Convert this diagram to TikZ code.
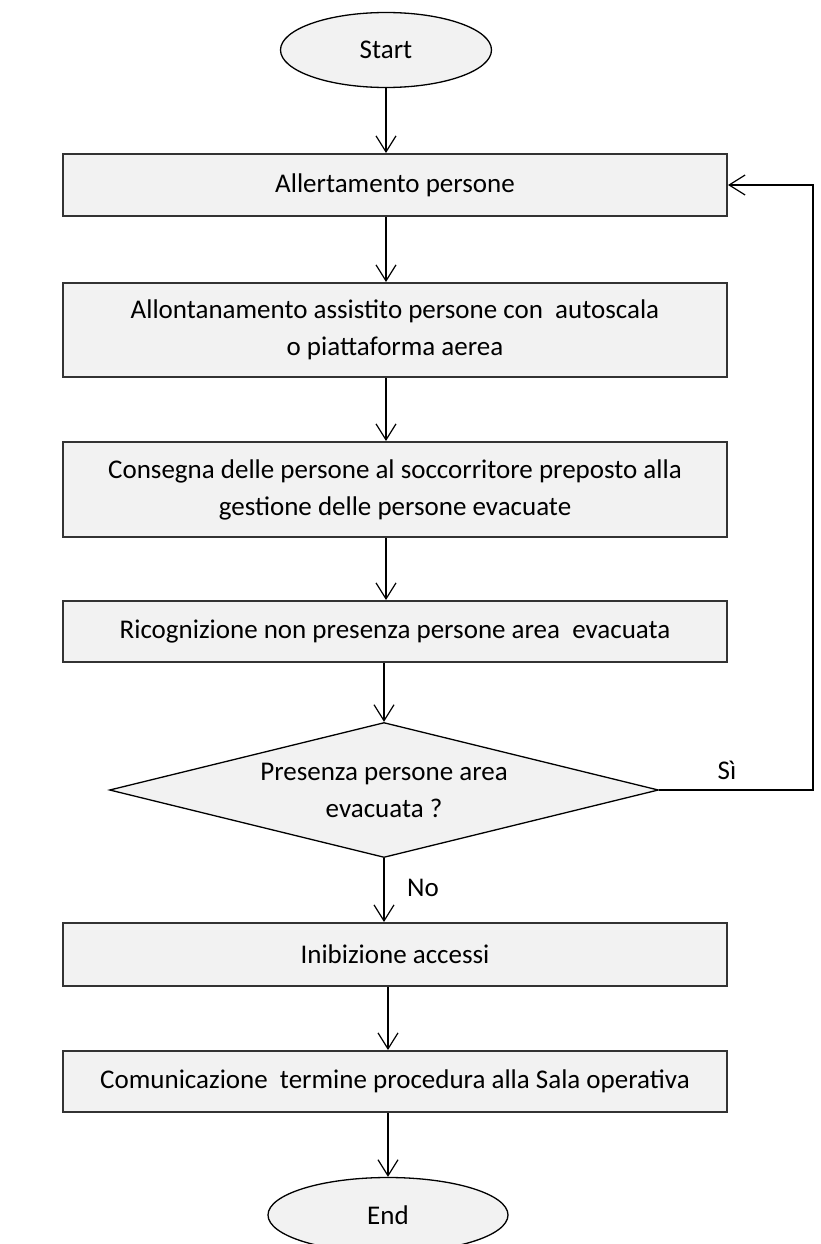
\documentclass[tikz,border=0pt]{standalone}
\usepackage{fontspec}
\setmainfont{Carlito}
\usetikzlibrary{shapes.geometric,arrows.meta}
\definecolor{boxfill}{HTML}{F2F2F2}
\definecolor{boxline}{HTML}{333333}
\begin{document}
\begin{tikzpicture}[x=1pt,y=1pt,
  every node/.style={font=\fontsize{27}{37}\selectfont},
  term/.style={ellipse,draw=black,line width=1.3pt,fill=boxfill,inner sep=0pt,minimum width=#1,minimum height=75pt},
  stepbox/.style={rectangle,draw=boxline,line width=2pt,fill=boxfill,minimum width=664pt,minimum height=#1,align=center,inner sep=0pt},
  decis/.style={diamond,draw=black,line width=1.3pt,fill=boxfill,aspect=4.07,inner sep=0pt,minimum width=549pt,minimum height=135pt,align=center},
  arr/.style={line width=1.2pt,-{Straight Barb[length=16pt,width=20pt,line width=1.2pt]}},
  lbl/.style={inner sep=0pt}]
\useasboundingbox (0,0) rectangle (821,-1244);
\node[term=211pt] (start) at (386,-50) {Start};
\node[stepbox=62pt] (b1) at (395,-185) {Allertamento persone};
\node[stepbox=94pt] (b2) at (395,-330) {Allontanamento assistito persone con\ \ autoscala\\o piattaforma aerea};
\node[stepbox=95pt] (b3) at (395,-489.5) {Consegna delle persone al soccorritore preposto alla\\gestione delle persone evacuate};
\node[stepbox=61pt] (b4) at (395,-631.5) {Ricognizione non presenza persone area\ \ evacuata};
\node[decis] (dec) at (384,-790) {Presenza persone area\\evacuata ?};
\node[stepbox=63pt] (b5) at (395,-954.5) {Inibizione accessi};
\node[stepbox=61pt] (b6) at (395,-1081.5) {Comunicazione\ \ termine procedura alla Sala operativa};
\node[term=240pt] (end) at (388,-1215) {End};
\coordinate (lp) at (813,-790);
\node[lbl] (si) at (727,-770) {Sì};
\node[lbl] (no) at (423,-888) {No};
\draw[arr] (start.south) -- (start.south |- b1.north);
\draw[arr] (start.south |- b1.south) -- (start.south |- b2.north);
\draw[arr] (start.south |- b2.south) -- (start.south |- b3.north);
\draw[arr] (start.south |- b3.south) -- (start.south |- b4.north);
\draw[arr] (dec.north |- b4.south) -- (dec.north);
\draw[arr] (dec.south) -- (dec.south |- b5.north);
\draw[arr] (end.north |- b5.south) -- (end.north |- b6.north);
\draw[arr] (end.north |- b6.south) -- (end.north);
\draw[arr] (dec.east) -- (lp) |- (b1.east);
\end{tikzpicture}
\end{document}
